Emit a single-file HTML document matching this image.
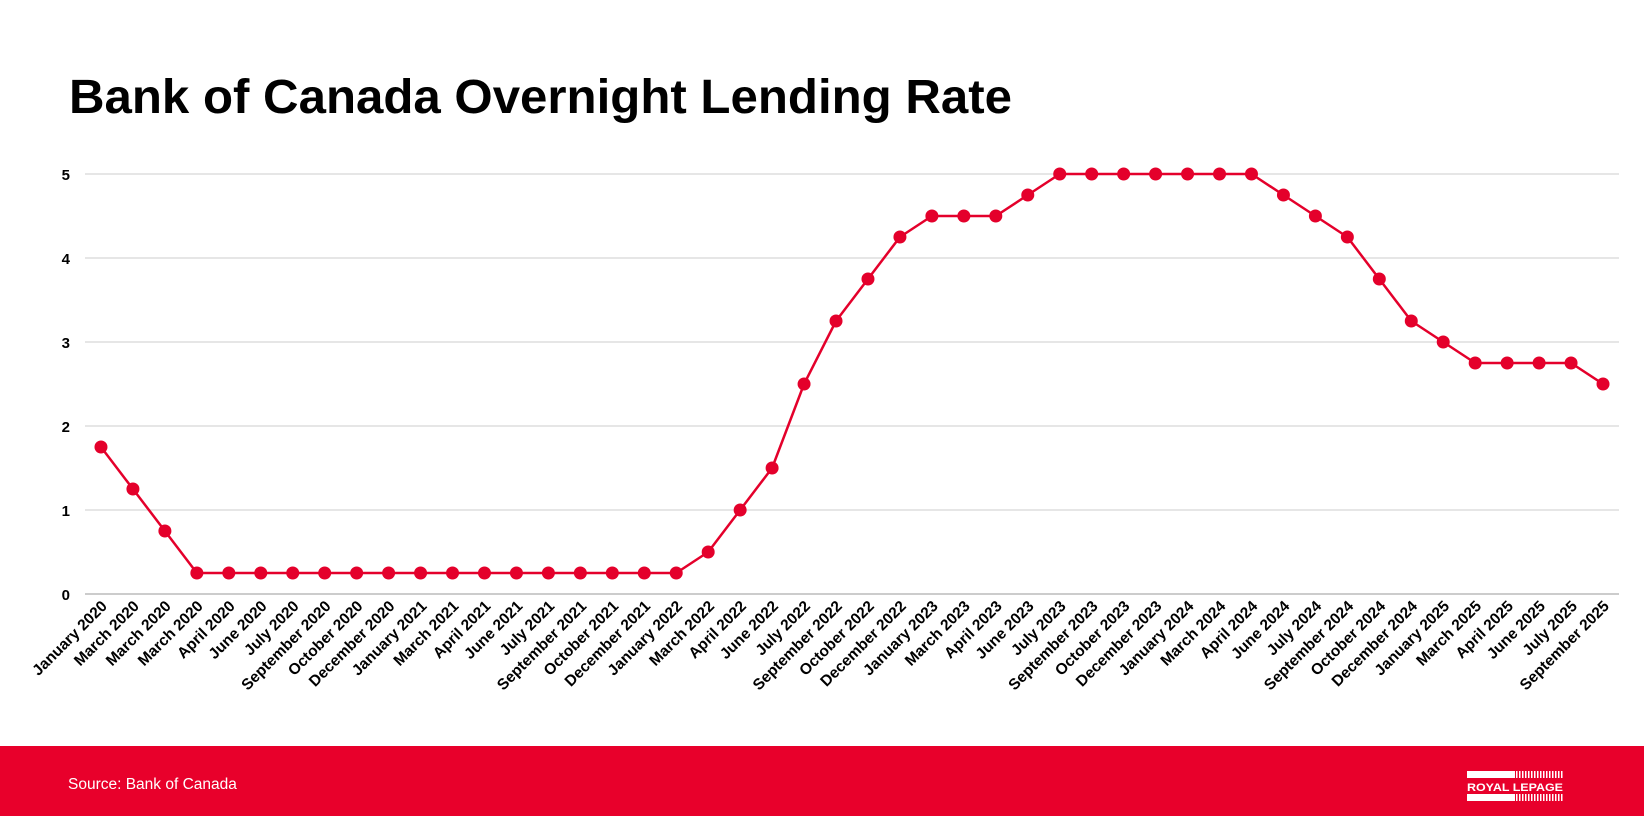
<!DOCTYPE html>
<html><head><meta charset="utf-8"><style>
html,body{margin:0;padding:0;background:#fff;width:1644px;height:816px;overflow:hidden;font-family:"Liberation Sans",Arial,sans-serif}
</style></head><body>
<svg id="chart" width="1644" height="816" xmlns="http://www.w3.org/2000/svg" font-family="Liberation Sans, Arial, sans-serif">
<text x="69" y="113" font-size="48" font-weight="bold" fill="#000" textLength="943" lengthAdjust="spacingAndGlyphs">Bank of Canada Overnight Lending Rate</text>
<g id="grid"></g><g id="xlabels"></g><g id="series"></g>
<rect x="0" y="746" width="1644" height="70" fill="#e8002b"/>
<text x="68" y="789" font-size="15.5" fill="#fff">Source: Bank of Canada</text>
<g>
<rect x="1467" y="771" width="48" height="7" fill="#fff"/>
<rect x="1467" y="794" width="48" height="7" fill="#fff"/>
<g fill="#fff" id="logobars"></g>
<text x="1467" y="791" font-size="11" font-weight="bold" fill="#fff" textLength="96" lengthAdjust="spacingAndGlyphs">ROYAL LEPAGE</text>
</g>
</svg>
<script>
const categories=["January 2020","March 2020","March 2020","March 2020","April 2020","June 2020","July 2020","September 2020","October 2020","December 2020","January 2021","March 2021","April 2021","June 2021","July 2021","September 2021","October 2021","December 2021","January 2022","March 2022","April 2022","June 2022","July 2022","September 2022","October 2022","December 2022","January 2023","March 2023","April 2023","June 2023","July 2023","September 2023","October 2023","December 2023","January 2024","March 2024","April 2024","June 2024","July 2024","September 2024","October 2024","December 2024","January 2025","March 2025","April 2025","June 2025","July 2025","September 2025"];
const rates=[1.75,1.25,0.75,0.25,0.25,0.25,0.25,0.25,0.25,0.25,0.25,0.25,0.25,0.25,0.25,0.25,0.25,0.25,0.25,0.5,1.0,1.5,2.5,3.25,3.75,4.25,4.5,4.5,4.5,4.75,5,5,5,5,5,5,5,4.75,4.5,4.25,3.75,3.25,3.0,2.75,2.75,2.75,2.75,2.5];
const yTicks=[0,1,2,3,4,5];
const NS="http://www.w3.org/2000/svg";
const L=85,R=1619,Y0=594,Y5=174;
const band=(R-L)/categories.length;
const x=i=>L+band*(i+0.5);
const y=v=>Y0-(Y0-Y5)*v/5;
function mk(t,a){const e=document.createElementNS(NS,t);for(const k in a)e.setAttribute(k,a[k]);return e;}
const grid=document.getElementById('grid');
yTicks.forEach(v=>{
 const ln=mk('line',{x1:L,x2:R,y1:y(v),y2:y(v),stroke:v===0?'#bbb':'#ddd','stroke-width':1.5});
 
 
 grid.appendChild(ln);
 const t=mk('text',{x:70,y:y(v)+6,'text-anchor':'end','font-size':15,'font-weight':'bold'});
 t.textContent=v;
 
 
 grid.appendChild(t);
});
const xl=document.getElementById('xlabels');
categories.forEach((c,i)=>{
 const ax=x(i)+7, ay=Y0+13;
 const t=mk('text',{x:ax,y:ay,'text-anchor':'end','font-size':15.5,'font-weight':'bold',transform:`rotate(-45 ${ax} ${ay})`});
 t.textContent=c;
 
 
 xl.appendChild(t);
});
const s=document.getElementById('series');
const p=mk('polyline',{points:rates.map((v,i)=>x(i)+','+y(v)).join(' '),fill:'none',stroke:'#e4002b','stroke-width':2.5,'stroke-linejoin':'round'});


s.appendChild(p);
rates.forEach((v,i)=>{
 const c=mk('circle',{cx:x(i),cy:y(v),r:6.5,fill:'#e4002b'});
 
 
 s.appendChild(c);
});
const lb=document.getElementById('logobars');
for(let i=0;i<16;i++){lb.appendChild(mk('rect',{x:1516+i*3,y:771,width:1.5,height:7}));lb.appendChild(mk('rect',{x:1516+i*3,y:794,width:1.5,height:7}));}
</script>
</body></html>
